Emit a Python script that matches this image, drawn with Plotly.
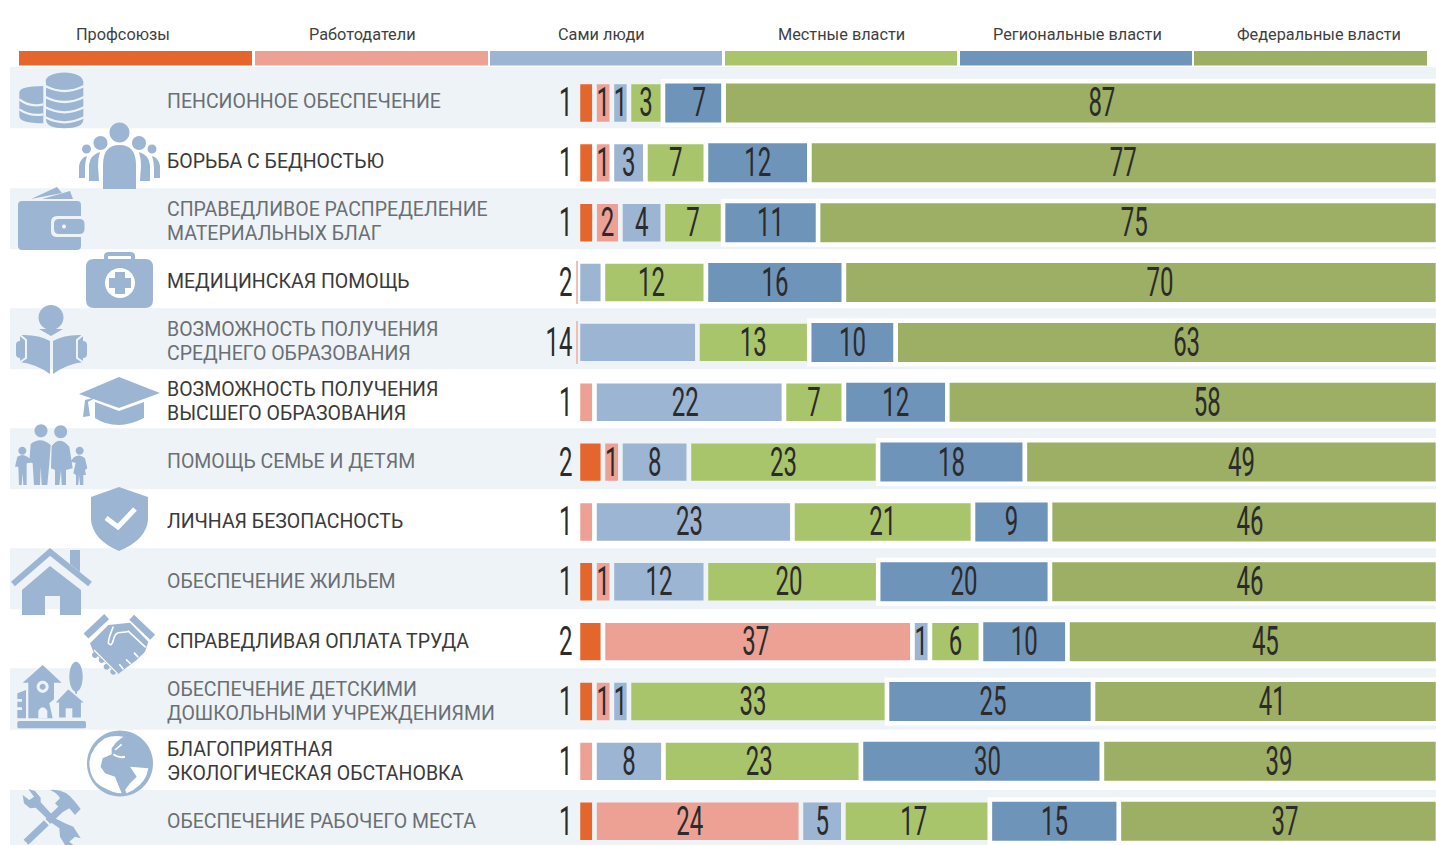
import re
import numpy as np
import plotly.graph_objects as go

W, H = 1436, 845
series_names = ["Профсоюзы", "Работодатели", "Сами люди", "Местные власти", "Региональные власти", "Федеральные власти"]
colors = ["#E4662C", "#EDA195", "#9BB5D3", "#A9C56B", "#6F94BA", "#9CAF64"]
row_labels = ["ПЕНСИОННОЕ ОБЕСПЕЧЕНИЕ", "БОРЬБА С БЕДНОСТЬЮ", "СПРАВЕДЛИВОЕ РАСПРЕДЕЛЕНИЕ<br>МАТЕРИАЛЬНЫХ БЛАГ",
              "МЕДИЦИНСКАЯ ПОМОЩЬ", "ВОЗМОЖНОСТЬ ПОЛУЧЕНИЯ<br>СРЕДНЕГО ОБРАЗОВАНИЯ",
              "ВОЗМОЖНОСТЬ ПОЛУЧЕНИЯ<br>ВЫСШЕГО ОБРАЗОВАНИЯ", "ПОМОЩЬ СЕМЬЕ И ДЕТЯМ", "ЛИЧНАЯ БЕЗОПАСНОСТЬ",
              "ОБЕСПЕЧЕНИЕ ЖИЛЬЕМ", "СПРАВЕДЛИВАЯ ОПЛАТА ТРУДА", "ОБЕСПЕЧЕНИЕ ДЕТСКИМИ<br>ДОШКОЛЬНЫМИ УЧРЕЖДЕНИЯМИ",
              "БЛАГОПРИЯТНАЯ<br>ЭКОЛОГИЧЕСКАЯ ОБСТАНОВКА", "ОБЕСПЕЧЕНИЕ РАБОЧЕГО МЕСТА"]

# Printed values inside the bars (None: printed outside, or not printed)
lab_unions = [None] * 13
lab_employers = [1, 1, 2, None, None, None, 1, None, 1, 37, 1, None, 24]
lab_people = [1, 3, 4, None, None, 22, 8, 23, 12, 1, 1, 8, 5]
lab_local = [3, 7, 7, 12, 13, 7, 23, 21, 20, 6, 33, 23, 17]
lab_regional = [7, 12, 11, 16, 10, 12, 18, 9, 20, 10, 25, 30, 15]
lab_federal = [87, 77, 75, 70, 63, 58, 49, 46, 46, 45, 41, 39, 37]
# Labels that sit outside to the left of the bars
lab_outer = [1, 1, 1, 2, 14, 1, 2, 1, 1, 2, 1, 1, 1]
# Segment lengths as drawn in the picture (they differ from the printed values)
len_unions = [1.93, 1.93, 1.95, 0, 0, 0, 2.92, 0, 1.93, 2.92, 1.93, 0, 1.93]
len_employers = [2.04, 2.04, 3.01, 0, 0, 1.93, 2.04, 1.93, 2.04, 36.16, 2.04, 1.93, 24.12]
len_people = [1.99, 3.91, 4.96, 2.92, 13.96, 22.14, 8.0, 23.13, 10.98, 2.04, 1.99, 8.06, 4.96]
len_local = [3.97, 7.07, 7.03, 12.03, 13.05, 7.0, 22.1, 21.09, 20.12, 5.96, 30.14, 23.07, 17.11]
len_regional = [7.09, 12.09, 11.10, 16.12, 10.11, 12.08, 17.15, 9.0, 20.07, 10.11, 24.07, 28.15, 15.07]
len_federal = [83.41, 73.42, 72.41, 69.39, 63.35, 57.32, 48.25, 45.33, 45.33, 43.28, 40.30, 39.25, 37.27]
# Centre of the federal label as printed
federal_label_pos = [61.2, 63.7, 64.97, 68.0, 71.1, 73.5, 77.5, 78.5, 78.5, 80.3, 81.1, 81.9, 82.6]
# Hairline employer marks in rows 4 and 5
hairline_rows = [3, 4]
hairline_len = [0.23, 0.23]
# Labels printed off-centre in their segment: (row, series) -> shift in axis units
label_shift = {(0, 4): 0.7, (3, 3): -0.35, (5, 2): -0.47, (7, 2): -0.47, (8, 3): -0.35, (9, 1): -0.23,
               (10, 3): -0.58, (10, 4): 0.35, (11, 3): -0.35, (11, 4): 0.7, (12, 1): -0.93, (12, 3): -0.35}

BAND = "#EEF3F8"
ICON = "#9BB5D3"
TEXT_DARK = "#3A3A3A"
TEXT_GREY = "#6A6F73"
NUM_FONT = "Roboto"
LAB_FONT = "Roboto"

n = len(row_labels)
rows = np.arange(n)
lens = np.array([len_unions, len_employers, len_people, len_local, len_regional, len_federal])
labs = [lab_unions, lab_employers, lab_people, lab_local, lab_regional, lab_federal]
bases = np.vstack([np.zeros(n), np.cumsum(lens, axis=0)[:-1]])
row_bg = [BAND if i % 2 == 0 else "white" for i in range(n)]

fig = go.Figure()
for k in range(6):
    light = k < 4
    linecol = row_bg if light else ["white"] * n
    h = (37.4 if light else 39) + 4.5
    fig.add_trace(go.Bar(y=rows, x=lens[k], base=bases[k], orientation="h", name=series_names[k],
                         width=h / 59.85, marker=dict(color=colors[k], line=dict(color=linecol, width=4.5)),
                         showlegend=False, hoverinfo="skip"))
fig.add_trace(go.Bar(y=hairline_rows, x=hairline_len, base=[-v for v in hairline_len], orientation="h",
                     name="Работодатели", width=43 / 59.85, marker=dict(color="#F2BDB4", line=dict(width=0)),
                     showlegend=False, hoverinfo="skip"))

tx, ty, tt = [], [], []
for k in range(6):
    for i in range(n):
        if labs[k][i] is None:
            continue
        pos = federal_label_pos[i] if k == 5 else bases[k][i] + lens[k][i] / 2
        tx.append(pos + label_shift.get((i, k), 0))
        ty.append(i)
        tt.append(str(labs[k][i]))
fig.add_trace(go.Scatter(x=tx, y=ty, text=tt, mode="text", textposition="middle center",
                         textfont=dict(family=NUM_FONT, size=40, color="#2B2B2B"), showlegend=False, hoverinfo="skip"))
fig.add_trace(go.Scatter(x=[-0.65] * n, y=rows, text=[str(v) for v in lab_outer], mode="text",
                         textposition="middle left", textfont=dict(family=NUM_FONT, size=40, color="#2B2B2B"),
                         showlegend=False, hoverinfo="skip"))

# ---------- decorative pixel-space helpers ----------
NUM = re.compile(r"-?\d+\.?\d*")
def conv(path):
    c = [0]
    def rep(m):
        v = float(m.group())
        c[0] += 1
        return f"{v / W:.5f}" if c[0] % 2 else f"{1 - v / H:.5f}"
    return NUM.sub(rep, path)

shapes = []
def P(path, fill=ICON, stroke=None, sw=0, layer="above"):
    shapes.append(dict(type="path", path=conv(path), xref="paper", yref="paper", layer=layer,
                       fillcolor=fill, line=dict(color=stroke or "rgba(0,0,0,0)", width=sw)))
def ell(cx, cy, rx, ry=None):
    ry = rx if ry is None else ry
    k = 0.5523
    return (f"M{cx-rx} {cy} C{cx-rx} {cy-k*ry} {cx-k*rx} {cy-ry} {cx} {cy-ry} "
            f"C{cx+k*rx} {cy-ry} {cx+rx} {cy-k*ry} {cx+rx} {cy} "
            f"C{cx+rx} {cy+k*ry} {cx+k*rx} {cy+ry} {cx} {cy+ry} "
            f"C{cx-k*rx} {cy+ry} {cx-rx} {cy+k*ry} {cx-rx} {cy} Z")
def rr(x0, y0, x1, y1, r):
    return (f"M{x0+r} {y0} L{x1-r} {y0} Q{x1} {y0} {x1} {y0+r} L{x1} {y1-r} Q{x1} {y1} {x1-r} {y1} "
            f"L{x0+r} {y1} Q{x0} {y1} {x0} {y1-r} L{x0} {y0+r} Q{x0} {y0} {x0+r} {y0} Z")
def L(path, color, sw):
    P(path, fill="rgba(0,0,0,0)", stroke=color, sw=sw)
def Z(path, ox, oy):
    """Path sketched on a 3x grid with origin (ox, oy), returned in page pixels."""
    c = [0]
    def rep(m):
        v = float(m.group()) / 3
        c[0] += 1
        return f"{v + ox:.2f}" if c[0] % 2 else f"{v + oy:.2f}"
    return NUM.sub(rep, path)

# bands
for top, bot in [(67, 128.3), (188.3, 249.3), (308.3, 369.3), (428.3, 489.3), (548.3, 609.3), (668.3, 729.7), (790, 850)]:
    P(f"M10 {top} L1436 {top} L1436 {bot} L10 {bot} Z", fill=BAND, layer="below")

# legend strips
strip_edges = [(19, 252), (255, 488), (490, 722), (725, 957), (960, 1192), (1194, 1427)]
for (a, b), col in zip(strip_edges, colors):
    P(f"M{a} 51 L{b} 51 L{b} 65.5 L{a} 65.5 Z", fill=col)

# 1 coins
o = (10, 66)
P(Z("M28 80 Q28 60 100 60 L100 172 Q28 172 28 150 Z", *o))
for a, b, c in [(100, 125, 115), (130, 152, 145)]:
    L(Z(f"M28 {a} Q60 {b} 100 {c}", *o), BAND, 2.3)
P(Z("M108 45 L220 45 L220 160 Q220 187 163 187 Q108 187 108 160 Z", *o))
for y in (60, 93, 124, 154):
    L(Z(f"M106 {y} Q163 {y+30} 222 {y}", *o), BAND, 2.3)
P(ell(64.3, 81, 18.6, 8.5))
# 2 people
P(ell(119.5, 132.5, 10))
P("M103 189 L103 165 Q103 145 119.5 145 Q136 145 136 165 L136 189 Z")
P(ell(100.5, 143, 7)); P(ell(139, 143, 7))
P("M89 181 L89 165 Q90 155 100 152 Q98 158 98 166 L99 181 Z")
P("M150 181 L150 165 Q149 155 139 152 Q141 158 141 166 L140 181 Z")
P(ell(86.5, 149, 4.5)); P(ell(152, 149, 4.5))
P("M79 178 L79 166 Q80 158 87 156 Q85 162 85 168 L85 178 Z")
P("M160 178 L160 166 Q159 158 152 156 Q154 162 154 168 L154 178 Z")
# 3 wallet
P("M31 199 L57 187 L62 193 Z"); P("M42 199 L70 191 L73 199 Z")
P(rr(18, 201, 81, 250, 4))
P(rr(51, 216, 86, 237, 6), fill=BAND)
P(rr(54, 219, 84.5, 234, 5))
P(ell(64, 226.5, 2), fill="white")
# 4 medkit
L("M106 262 L106 256 Q106 254 109 254 L130 254 Q133 254 133 256 L133 262", ICON, 4)
P(rr(86, 259, 153, 308, 8))
P(ell(120, 283, 15), fill="white")
P("M115 272 L125 272 L125 278 L131 278 L131 288 L125 288 L125 294 L115 294 L115 288 L109 288 L109 278 L115 278 Z")
# 5 reader
P(ell(51, 317.5, 12.5))
P("M39 329 L63 329 L51 336 Z")
P("M20 335 Q38 334 50 341 L50 374 Q36 364 20 362 Z")
P("M83 335 Q65 334 53 341 L53 374 Q67 364 83 362 Z")
P(rr(16, 341, 24, 358, 4)); P(rr(78.5, 341, 87, 358, 4))
L("M20 335 L26 340 L26 358 L20 362", BAND, 2); L("M83 335 L77 340 L77 358 L83 362", BAND, 2)
# 6 cap
P("M79 394 L119 377 L160 393 L119 408 Z")
P("M95 402 L119 411 L144 402 L144 418 Q130 425 119 425 Q105 425 95 418 Z")
P("M97 397 L85 400 L83 417 L90 416 L88 402 Z")
# 7 family
o = (10, 420)
P(ell(10 + 93 / 3, 420 + 32 / 3, 6.5)); P(ell(10 + 152 / 3, 420 + 35 / 3, 6.5))
P(ell(10 + 37 / 3, 420 + 92 / 3, 4)); P(ell(10 + 209 / 3, 420 + 92 / 3, 4))
P(Z("M58 125 L62 72 Q92 48 122 75 L118 130 L112 195 L95 195 L92 140 L90 195 L72 195 L68 130 Z", *o))
P(Z("M125 78 Q150 45 178 80 L188 145 L168 150 L168 195 L155 195 L153 150 L148 195 L135 195 L135 150 L123 145 Z", *o))
P(Z("M15 140 L22 110 Q38 100 52 110 L68 122 L62 128 L50 130 L50 195 L40 195 L38 160 L35 195 L27 195 L25 140 Z", *o))
P(Z("M180 125 L192 112 Q209 100 225 115 L232 145 L225 150 L228 165 L220 165 L220 195 L210 195 L207 165 L205 195 L198 195 L198 165 L190 160 L197 128 Z", *o))
# 8 shield
P("M119 487 L148 497 L148 520 Q146 540 119 551 Q93 540 91 520 L91 497 Z")
L("M106 518 L118 527 L135 509", "white", 5)
# 9 house
P("M70 550 L80 550 L80 572 L70 564 Z")
L("M13 584 L50 552 L90 584", ICON, 6)
P("M22 590 L50 566 L81 590 L81 615 L60 615 L60 596 L45 596 L45 615 L22 615 Z")
# 10 handshake
o = (80, 610)
L(Z("M18 78 L80 20", *o), ICON, 7); L(Z("M155 22 L218 82", *o), ICON, 7)
P(Z("M30 100 L85 45 L150 38 L205 95 L195 125 L170 150 L150 165 L130 180 L115 192 L95 178 L78 160 L60 145 L40 125 Z", *o))
for cx, cy in [(45, 135), (65, 150), (80, 170), (100, 185)]:
    P(ell(80 + cx / 3, 610 + cy / 3, 3))
L(Z("M143 65 L115 68 Q105 70 100 90 Q95 112 85 100 Q85 85 100 50", *o), "white", 1.6)
L(Z("M143 62 L197 112", *o), "white", 1.6)
for a in ["M130 178 L118 163", "M152 162 L138 148", "M175 142 L162 128"]:
    L(Z(a, *o), "white", 1.6)
L(Z("M42 120 L112 190", *o), "white", 1.2)
# 11 kindergarten
o = (10, 660)
P(Z(rr(22, 183, 228, 205, 5), *o))
P(Z("M98 15 L155 68 L132 68 L132 118 L118 130 L128 175 L55 175 L55 68 L38 68 Z", *o))
P(ell(10 + 98 / 3, 660 + 80 / 3, 6), fill=BAND); P(ell(10 + 98 / 3, 660 + 80 / 3, 3))
P(Z("M85 175 L85 152 Q98 132 112 152 L112 175 Z", *o), fill=BAND)
P(Z("M22 100 L48 90 L48 175 L22 175 L22 150 L36 150 L36 142 L22 142 L22 125 L36 125 L36 117 L22 117 Z", *o))
P(ell(10 + 198 / 3, 660 + 50 / 3, 6.7, 15)); L(Z("M198 85 L198 102", *o), ICON, 2)
P(Z("M175 85 L228 130 L215 130 L215 175 L145 175 L145 130 L132 130 Z", *o), stroke=BAND, sw=1.5)
P(Z("M167 145 L187 145 L187 175 L167 175 Z", *o), fill=BAND)
# 12 globe
o = (80, 725)
P(ell(120, 763.5, 33))
P(Z("M75 40 Q35 65 28 110 Q28 170 75 190 Q100 205 125 205 L115 180 L105 155 L75 145 L62 125 L68 100 L95 88 L95 70 L110 50 L130 35 Q100 30 75 40 Z", *o), fill="white")
P(Z("M150 125 L205 130 Q200 170 160 195 L140 205 L135 195 L150 175 L170 155 Z", *o), fill="white")
L(Z("M100 88 Q115 100 135 95", *o), "white", 2)
L(Z("M125 58 L105 75", *o), "white", 1.5)
# 13 tools
o = (10, 785)
P(Z("M55 12 L75 18 L92 38 L92 52 L125 88 L110 100 L77 68 L60 70 L42 55 L38 30 L58 45 L72 35 Z", *o))
P(Z("M135 100 L165 115 L190 125 L212 160 L195 155 L178 170 L190 180 L165 180 L150 155 L148 130 L120 110 Z", *o))
L(Z("M48 172 L155 70", *o), ICON, 7)
P(Z("M120 15 Q165 10 195 50 L212 72 L195 90 L178 70 L160 80 L135 55 L150 40 Q140 22 120 15 Z", *o))
L(Z("M100 100 L120 120", *o), BAND, 2)

# annotations
anns = []
label_cx = [123, 362, 601, 841, 1077, 1319]
for name, cx in zip(series_names, label_cx):
    anns.append(dict(text=name, x=cx / W, y=1 - 34 / H, xref="paper", yref="paper", showarrow=False, xanchor="center",
                     yanchor="middle", font=dict(family=LAB_FONT, size=16.3, color="#3F3F3F")))
for i, t in enumerate(row_labels):
    parts = t.split("<br>")
    yc = 101 + 60.03 * i
    for j, part in enumerate(parts):
        y = yc + (j - (len(parts) - 1) / 2) * 24
        anns.append(dict(text=part, x=164.5 / W, y=1 - y / H, xref="paper", yref="paper", showarrow=False,
                         xanchor="left", yanchor="middle", align="left",
                         font=dict(family=LAB_FONT, size=19.5, color=TEXT_GREY if i % 2 == 0 else TEXT_DARK)))

fig.update_layout(width=W, height=H, margin=dict(l=0, r=0, t=0, b=0), paper_bgcolor="white", plot_bgcolor="rgba(0,0,0,0)",
                  barmode="overlay", shapes=shapes, annotations=anns,
                  xaxis=dict(range=[-578 / 8.56, (1436 - 578) / 8.56], visible=False, fixedrange=True),
                  yaxis=dict(range=[(845 - 103) / 59.85, -103 / 59.85], visible=False, fixedrange=True))

post = """
document.body.style.margin = '0';
document.documentElement.style.overflow = 'hidden';
var SX = 0.6, DY = 3.5;
document.querySelectorAll('.textpoint text').forEach(function (t) {
  var b = t.getBBox();
  var anchor = t.getAttribute('text-anchor');
  var ax = anchor === 'end' ? b.x + b.width : b.x + b.width / 2;
  var old = t.getAttribute('transform') || '';
  t.setAttribute('transform', 'translate(' + ax + ',' + DY + ') scale(' + SX + ',1) translate(' + (-ax) + ',0) ' + old);
});
"""
fig.write_html("out.html", config=dict(displayModeBar=False), post_script=post)
